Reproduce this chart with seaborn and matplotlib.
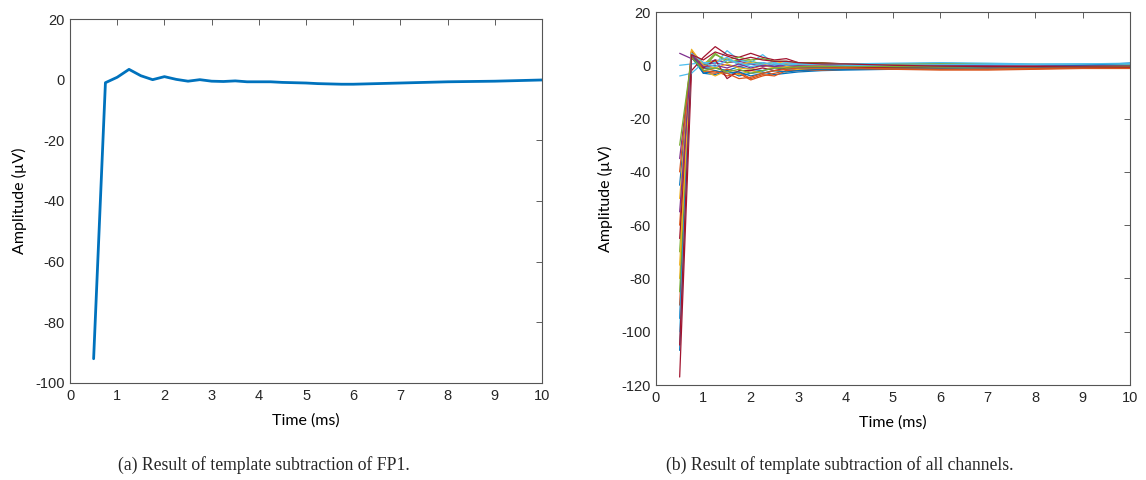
import numpy as np
import pandas as pd
import matplotlib
matplotlib.use("Agg")
import matplotlib.pyplot as plt
import seaborn as sns

# ---- data ----
# (a) FP1 after template subtraction, 0.25 ms sampling
fp1_time = [0.5, 0.75, 1.0, 1.25, 1.5, 1.75, 2.0, 2.25, 2.5, 2.75, 3.0, 3.25, 3.5,
            3.75, 4.0, 4.25, 4.5, 4.75, 5.0, 5.25, 5.5, 5.75, 6.0, 6.25, 6.5, 6.75,
            7.0, 7.25, 7.5, 7.75, 8.0, 8.25, 8.5, 8.75, 9.0, 9.25, 9.5, 9.75, 10.0]
fp1_amp = [-92, -1, 0.8, 3.4, 1.3, 0, 1.0, 0.1, -0.5, 0, -0.5, -0.6, -0.4,
           -0.7, -0.7, -0.7, -0.9, -1.0, -1.1, -1.3, -1.4, -1.5, -1.5, -1.4, -1.3, -1.2,
           -1.1, -1.0, -0.9, -0.8, -0.7, -0.65, -0.6, -0.55, -0.5, -0.4, -0.3, -0.2, -0.1]

# (b) all channels, coarser grid after 3 ms
ch_time = [0.5, 0.75, 1.0, 1.25, 1.5, 1.75, 2.0, 2.25, 2.5, 2.75, 3.0, 3.5, 4, 5, 6, 7, 8, 9, 10]
ch_amp = [
    [-107, 3, -3, -3.5, -2, -4, -3, -2.5, -3.5, -3, -2.5, -2, -1.8, -1.5, -1.2, -1, -0.8, -0.5, 0.5],
    [-60, 5, -1, -2, -4, -3, -5.5, -4, -3, -2, -1.5, -1.5, -1.5, -1.2, -1.3, -1.2, -1.2, -1, -1],
    [-80, 5.5, -2, -4, -2, -3.5, -2, -3, -2, -2.5, -1.5, -1, -1.2, -1, -1.5, -1, -1, -0.8, -0.8],
    [4.5, 2.5, 0.5, 2, 1, 1.5, 0.5, 1, 0, 0.5, 0.3, 0, -0.2, 0, 0.2, 0, 0, 0.2, 0.3],
    [-70, 4, 0, 4.5, 1, 2, 1.5, 0.5, 1, 0, 0.5, 0.5, 0.3, 0.5, 0.8, 0.5, 0.3, 0.2, 0],
    [0, 0.5, 1, 0.5, 5.5, 2, 1, 4, 0.5, 1, 0, 0.5, 0.5, 0.3, 0, 0.2, 0.3, 0.5, 0.8],
    [-117, -2, 3, 7, 4, 3, 4.5, 3, 2, 2.5, 1, 1, 0.5, 0.3, 0, -0.2, -0.3, -0.5, -0.5],
    [-45, 4, -1, -1, -2, -0.5, -1.5, -2, -1, -1.5, -1, -0.8, -0.5, -0.8, -1, -1, -0.8, -0.6, -0.3],
    [-90, 4.5, -2.5, -3, -1.5, -2.5, -5, -3.5, -4, -2, -2, -1.8, -1.5, -1.5, -1.8, -1.8, -1.5, -1.2, -1.2],
    [-50, 5, 1, 1.5, 2.5, 0.5, 1, 0, 1.5, 0.5, 0, 0.5, 0.3, 0.5, 0.5, 0.3, 0, 0, -0.2],
    [-35, 3.5, 0, 1, 0, -0.5, 0.5, -0.5, 0, -0.5, -0.2, -0.3, -0.2, -0.5, -0.5, -0.3, -0.3, -0.2, 0],
    [-85, 4, -1, 4, 2, 3, 2, 2.5, 1.5, 1.5, 1, 0.8, 0.5, 0.5, 0.6, 0.5, 0.3, 0.2, 0.2],
    [-4, -3, 1, 1, 3, 0, 0.5, 1, 0, 1, 0.5, 0.3, 0.5, 0.8, 1.0, 0.8, 0.5, 0.5, 0.5],
    [-65, 3, -1, 2, -5, -2, -2, -1, -2, -1, -0.5, -0.5, -0.8, -0.8, -0.8, -0.5, -0.5, -0.5, -0.5],
    [-95, 5, -3, -2, -3, -2.5, -4, -3, -2, -2.5, -2, -1.5, -1.5, -1.2, -1, -0.8, -0.5, 0, 0.8],
    [-40, 5.5, -2, -2.5, -3, -5, -4.5, -3, -2, -1.5, -1, -1, -1, -1.3, -1.5, -1.5, -1.3, -1, -1],
    [-75, 6, 0, -1, 0.5, -1, -1.5, 0, -1, -0.5, -0.5, -0.3, -0.5, -0.3, -0.5, -0.5, -0.5, -0.5, -0.6],
    [-55, 4, -0.5, 0, -1, 0.5, -1, 0, -0.5, 0, -0.5, -0.5, -0.3, -0.3, -0.3, -0.5, -0.3, -0.3, -0.2],
    [-30, 3, -2, -1, -2.5, -1.5, -3, -2, -1, -1, -0.5, -0.5, -0.3, -0.5, -0.6, -0.5, -0.5, -0.5, -0.4],
    [-100, 4.5, 1, -0.5, 2, 1, -0.5, 0.5, 1, 0, 0.5, 0.3, 0, 0, 0.2, 0.3, 0.3, 0.5, 0.6],
    [-105, 4, 2, 5, 3.5, 2, 3, 2, 1.5, 1.5, 1, 0.5, 0.5, 0, -0.3, -0.5, -0.5, -0.6, -0.7],
]

xticks = list(range(0, 11))
yticks_a = [20, 0, -20, -40, -60, -80, -100]
yticks_b = [20, 0, -20, -40, -60, -80, -100, -120]

# MATLAB default colour order
matlab_colors = ["#0072BD", "#D95319", "#EDB120", "#7E2F8E", "#77AC30", "#4DBEEE", "#A2142F"]

sns.set_style("white")
plt.rcParams["font.family"] = ["Liberation Sans", "DejaVu Sans"]
plt.rcParams["axes.unicode_minus"] = False

fig = plt.figure(figsize=(11.46, 4.8), dpi=100)
ax1 = fig.add_axes([0.0611, 0.2021, 0.4119, 0.7583])
ax2 = fig.add_axes([0.5724, 0.1979, 0.4136, 0.7771])

df_a = pd.DataFrame({"time": fp1_time, "amp": fp1_amp})
sns.lineplot(data=df_a, x="time", y="amp", ax=ax1, color="#0072BD", linewidth=2.0)

rows = []
for i, ch in enumerate(ch_amp):
    for t, a in zip(ch_time, ch):
        rows.append((t, a, i))
df_b = pd.DataFrame(rows, columns=["time", "amp", "channel"])
pal = [matlab_colors[i % 7] for i in range(len(ch_amp))]
sns.lineplot(data=df_b, x="time", y="amp", hue="channel", palette=pal, ax=ax2,
             linewidth=0.9, legend=False, estimator=None, sort=False)

def style(ax, ylim, yticks):
    ax.set_xlim(0, 10)
    ax.set_ylim(*ylim)
    ax.set_xticks(xticks)
    ax.set_yticks(yticks)
    ax.tick_params(direction="in", top=True, right=True, length=4, width=0.6,
                   color="#444444", labelcolor="#262626", labelsize=10.5, pad=4)
    ax.tick_params(axis="x", labeltop=False)
    ax.tick_params(axis="y", labelright=False)
    for s in ax.spines.values():
        s.set_color("#555555")
        s.set_linewidth(0.8)
    ax.set_xlabel("Time (ms)", fontsize=11.5, family=["Lato", "DejaVu Sans"],
                  color="black", labelpad=8)
    ax.set_ylabel("Amplitude (µV)", fontsize=11.5, family=["Lato", "DejaVu Sans"],
                  color="black", labelpad=6)

style(ax1, (-100, 20), yticks_a)
style(ax2, (-120, 20), yticks_b)

fig.text(0.2305, 0.031, "(a) Result of template subtraction of FP1.",
         ha="center", va="center", fontsize=12.7, family=["Liberation Serif"])
fig.text(0.733, 0.031, "(b) Result of template subtraction of all channels.",
         ha="center", va="center", fontsize=12.7, family=["Liberation Serif"])

fig.savefig("out.png", dpi=100)
